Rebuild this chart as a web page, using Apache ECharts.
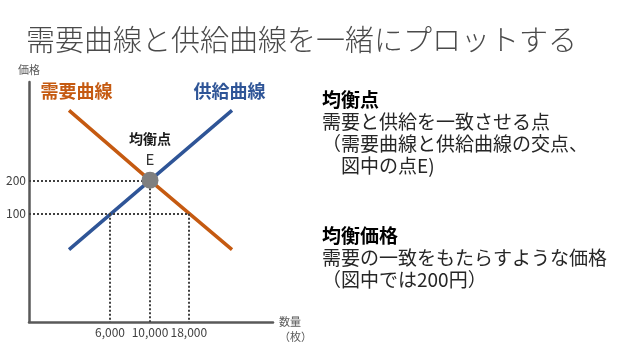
<!DOCTYPE html>
<html>
<head>
<meta charset="utf-8">
<script src="https://cdn.jsdelivr.net/npm/echarts@6/dist/echarts.min.js"></script>
<style>html,body{margin:0;padding:0;background:#fff}#c{width:640px;height:360px}</style>
</head>
<body>
<div id="c"></div>
<script>
// --- data (schematic units) ---
const qLabels = ['6,000', '10,000', '18,000'];
const qPos = [33.2, 49.6, 65.5];          // schematic x position of each quantity tick
const guidePrices = [100, 200, 100];      // price at which each quantity is read
const pTicks = [100, 200];
const demandData = [[16.4, 410], [49.6, 200], [83.2, -8]];
const supplyData = [[16.4, -8], [49.6, 200], [83.2, 410]];
const equilibrium = [[49.6, 200]];
const demandName = '需要曲線';
const supplyName = '供給曲線';
const eqName = '均衡点';
const eqLetter = 'E';

const FONT = "'Noto Sans CJK JP', 'Noto Sans', sans-serif";
const ORANGE = '#C55A11';
const BLUE = '#2F5597';
const X_MIN = 0, X_MAX = 100, Y_MIN = -225, Y_MAX = 495;

// guide lines
const guides = [];
const maxQByPrice = {};
qPos.forEach((q, i) => {
  const p = guidePrices[i];
  maxQByPrice[p] = Math.max(maxQByPrice[p] || 0, q);
  guides.push([{ coord: [q, p] }, { coord: [q, Y_MIN] }]);
});
Object.keys(maxQByPrice).forEach(p => {
  guides.push([{ coord: [X_MIN, +p] }, { coord: [maxQByPrice[p], +p] }]);
});

function curveLabel(name, color, pad) {
  return {
    show: true, position: 'top', distance: 10, padding: pad, formatter: name,
    fontFamily: FONT, fontSize: 18, fontWeight: 'bold', color: color
  };
}

const chart = echarts.init(document.getElementById('c'), null, { renderer: 'canvas' });
chart.setOption({
  animation: false,
  backgroundColor: '#fff',
  textStyle: { fontFamily: FONT },
  title: {
    text: '需要曲線と供給曲線を一緒にプロットする',
    left: 21, top: 20,
    textStyle: { fontFamily: FONT, fontSize: 29, fontWeight: 300, color: '#4a4a4a' }
  },
  grid: { left: 29, right: 367, top: 82, bottom: 38, containLabel: false },
  xAxis: {
    type: 'value', min: X_MIN, max: X_MAX,
    name: '{s| }\n{t|数量}\n{t|（枚）}', nameLocation: 'end', nameGap: 6,
    nameTextStyle: {
      fontFamily: FONT, fontSize: 11, color: '#595959', align: 'left', verticalAlign: 'middle',
      rich: {
        s: { fontSize: 11, lineHeight: 15 },
        t: { fontFamily: FONT, fontSize: 11, color: '#595959', lineHeight: 15 }
      }
    },
    axisLine: { onZero: false, lineStyle: { color: '#595959', width: 2.5 } },
    axisTick: { show: false },
    splitLine: { show: false },
    axisLabel: {
      customValues: qPos, margin: 4,
      fontFamily: FONT, fontSize: 12, color: '#404040',
      formatter: v => { const i = qPos.indexOf(v); return i >= 0 ? qLabels[i] : ''; }
    }
  },
  yAxis: {
    type: 'value', min: Y_MIN, max: Y_MAX,
    name: '価格', nameLocation: 'end', nameGap: 7,
    nameTextStyle: { fontFamily: FONT, fontSize: 11, color: '#595959', align: 'center' },
    axisLine: { show: true, onZero: false, lineStyle: { color: '#595959', width: 2.5 } },
    axisTick: { show: false },
    splitLine: { show: false },
    axisLabel: { customValues: pTicks, margin: 3, fontFamily: FONT, fontSize: 12, color: '#404040' }
  },
  series: [
    {
      type: 'line', name: 'guides', data: [], silent: true,
      markLine: {
        silent: true, symbol: 'none', animation: false,
        label: { show: false },
        lineStyle: { color: '#404040', width: 2, type: [2, 2] },
        data: guides
      }
    },
    {
      type: 'line', name: demandName,
      data: demandData.map((d, i) => i === 0 ? { value: d, label: curveLabel(demandName, ORANGE, [0, 0, 0, 15]) } : d),
      showSymbol: true, symbol: 'circle', symbolSize: 0.01,
      labelLayout: { hideOverlap: false },
      lineStyle: { color: ORANGE, width: 3.5 }, itemStyle: { color: ORANGE }
    },
    {
      type: 'line', name: supplyName,
      data: supplyData.map((d, i) => i === supplyData.length - 1 ? { value: d, label: curveLabel(supplyName, BLUE, [0, 5, 0, 0]) } : d),
      showSymbol: true, symbol: 'circle', symbolSize: 0.01,
      labelLayout: { hideOverlap: false },
      lineStyle: { color: BLUE, width: 3.5 }, itemStyle: { color: BLUE }
    },
    {
      type: 'scatter', name: eqName, data: equilibrium, symbolSize: 17, z: 5,
      itemStyle: { color: '#7F7F7F', opacity: 1 },
      label: {
        show: true, position: 'top', distance: 3,
        formatter: '{a|' + eqName + '}\n{b|' + eqLetter + '}',
        rich: {
          a: { fontFamily: FONT, fontSize: 14, fontWeight: 'bold', color: '#1a1a1a', lineHeight: 20, align: 'center' },
          b: { fontFamily: FONT, fontSize: 15, color: '#333', lineHeight: 20, align: 'center' }
        }
      }
    }
  ],
  graphic: [
    {
      type: 'text', left: 322, top: 89,
      style: {
        text: '{h|均衡点}\n需要と供給を一致させる点\n（需要曲線と供給曲線の交点、\n　図中の点E)',
        font: '19px ' + FONT, fill: '#262626', lineHeight: 22,
        rich: { h: { fontFamily: FONT, fontSize: 19, fontWeight: 'bold', fill: '#000', lineHeight: 22 } }
      }
    },
    {
      type: 'text', left: 322, top: 225,
      style: {
        text: '{h|均衡価格}\n需要の一致をもたらすような価格\n（図中では200円）',
        font: '19px ' + FONT, fill: '#262626', lineHeight: 22,
        rich: { h: { fontFamily: FONT, fontSize: 19, fontWeight: 'bold', fill: '#000', lineHeight: 22 } }
      }
    }
  ]
});
</script>
</body>
</html>
